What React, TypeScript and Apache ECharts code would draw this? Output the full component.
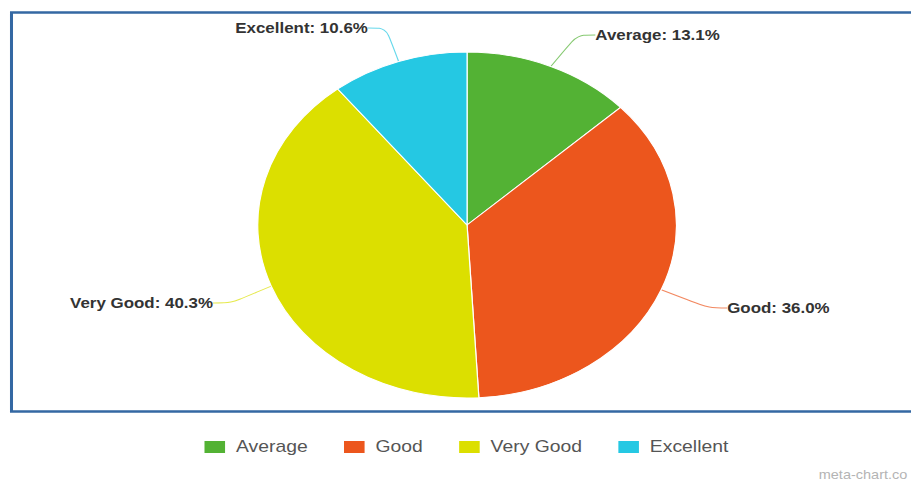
import React, { useEffect, useRef } from "react";
import * as echarts from "echarts";

const categories = ["Average", "Good", "Very Good", "Excellent"];
const values = [13.1, 36.0, 40.3, 10.6];
const colors = ["#53b234", "#ec561d", "#dcdf00", "#25c8e3"];
const watermark = "meta-chart.co";

const SX = 1.21;
const W = 911;
const H = 483;
const IW = Math.round(W / SX);

// label anchor positions in unscaled chart coordinates
const labelPos: Record<number, { x: number; y: number; align: string }> = {
  0: { x: 492, y: 35, align: "left" },
  1: { x: 601, y: 308, align: "left" },
  2: { x: 176, y: 303, align: "right" },
  3: { x: 304, y: 28, align: "right" },
};

export default function App() {
  const ref = useRef<HTMLDivElement>(null);
  useEffect(() => {
    if (!ref.current) return;
    const chart = echarts.init(ref.current, null, { renderer: "svg" });
    chart.setOption({
      animation: false,
      backgroundColor: "#ffffff",
      color: colors,
      legend: {
        top: 434,
        left: 162,
        itemWidth: 19,
        itemHeight: 14,
        itemGap: 28,
        icon: "rect",
        formatter: (n: string) => `{s|}{t|${n}}`,
        textStyle: {
          fontFamily: "Liberation Sans",
          fontSize: 16,
          color: "#555",
          rich: {
            s: { width: 3 },
            t: { fontFamily: "Liberation Sans", fontSize: 16, color: "#555" },
          },
        },
        data: categories,
      },
      graphic: [
        {
          type: "rect",
          shape: { x: 9.5, y: 12.5, width: IW + 20, height: 399 },
          style: { fill: "none", stroke: "#3468a3", lineWidth: 2.5 },
        },
        {
          type: "text",
          right: 3,
          top: 469,
          style: {
            text: watermark,
            fill: "#b4b4b4",
            font: "12px Liberation Sans",
          },
        },
      ],
      series: [
        {
          type: "pie",
          center: [386, 225],
          radius: [0, 173],
          startAngle: 90,
          clockwise: true,
          data: categories.map((c, i) => ({ name: c, value: values[i] })),
          itemStyle: { borderColor: "#ffffff", borderWidth: 1 },
          label: {
            show: true,
            formatter: (p: any) => `${p.name}: ${p.value.toFixed(1)}%`,
            fontFamily: "Liberation Sans",
            fontWeight: "bold",
            fontSize: 14,
            color: "#333",
          },
          labelLine: {
            show: true,
            smooth: 0.3,
            length: 20,
            length2: 15,
            lineStyle: { width: 1, opacity: 0.7 },
          },
          labelLayout: (p: any) => {
            const lp = labelPos[p.dataIndex];
            return { x: lp.x, y: lp.y, align: lp.align, verticalAlign: "middle" };
          },
        },
      ],
    });
    return () => chart.dispose();
  }, []);
  return (
    <div style={{ position: "fixed", left: 0, top: 0, width: W, height: H, overflow: "hidden", background: "#fff" }}>
      <div
        ref={ref}
        style={{ width: IW, height: H, transform: `scaleX(${SX})`, transformOrigin: "0 0" }}
      />
    </div>
  );
}
